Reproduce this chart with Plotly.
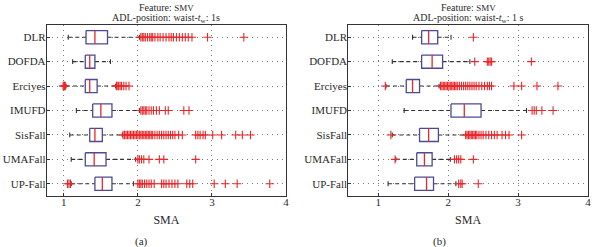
import plotly.graph_objects as go

categories = ["DLR", "DOFDA", "Erciyes", "IMUFD", "SisFall", "UMAFall", "UP-Fall"]

# Panel (a)
a_low = [1.06, 1.12, 1.03, 1.17, 1.08, 1.10, 1.10]
a_q1 = [1.30, 1.29, 1.29, 1.39, 1.35, 1.29, 1.42]
a_med = [1.42, 1.35, 1.35, 1.50, 1.42, 1.41, 1.52]
a_q3 = [1.59, 1.42, 1.45, 1.65, 1.52, 1.57, 1.65]
a_high = [2.02, 1.63, 1.70, 2.02, 1.79, 1.97, 1.94]
a_out = [
    [2.04, 2.06, 2.08, 2.10, 2.13, 2.16, 2.18, 2.20, 2.23, 2.27, 2.30, 2.34, 2.38, 2.42, 2.45, 2.48, 2.52, 2.56, 2.60, 2.64, 2.68, 2.73, 2.94, 3.43],
    [],
    [0.99, 1.00, 1.01, 1.02, 1.71, 1.72, 1.74, 1.76, 1.78, 1.81, 1.84, 1.88],
    [2.04, 2.06, 2.08, 2.10, 2.12, 2.15, 2.18, 2.21, 2.25, 2.29, 2.37, 2.41, 2.62, 2.69],
    [1.80, 1.82, 1.84, 1.86, 1.88, 1.90, 1.92, 1.94, 1.96, 1.98, 2.00, 2.02, 2.04, 2.06, 2.08, 2.10, 2.12, 2.14, 2.16, 2.18, 2.20, 2.23, 2.26, 2.29, 2.32, 2.35, 2.38, 2.41, 2.44, 2.47, 2.50, 2.55, 2.60, 2.78, 2.81, 2.84, 2.88, 2.91, 3.01, 3.13, 3.32, 3.41, 3.52],
    [2.00, 2.02, 2.05, 2.08, 2.15, 2.29, 2.35, 2.78],
    [1.05, 1.07, 1.09, 2.00, 2.02, 2.04, 2.06, 2.09, 2.12, 2.15, 2.18, 2.22, 2.32, 2.35, 2.38, 2.42, 2.46, 2.50, 2.54, 2.66, 2.70, 2.74, 3.03, 3.18, 3.34, 3.78],
]

# Panel (b)
b_low = [1.49, 1.20, 1.11, 1.37, 1.20, 1.25, 1.14]
b_q1 = [1.62, 1.62, 1.40, 2.04, 1.59, 1.55, 1.52]
b_med = [1.72, 1.77, 1.49, 2.23, 1.72, 1.66, 1.69]
b_q3 = [1.85, 1.92, 1.59, 2.47, 1.86, 1.77, 1.79]
b_high = [2.04, 2.31, 1.87, 3.12, 2.25, 2.03, 2.11]
b_out = [
    [2.36],
    [2.38, 2.56, 2.58, 2.60, 2.62, 3.19],
    [1.10, 1.89, 1.91, 1.93, 1.95, 1.97, 1.99, 2.01, 2.03, 2.05, 2.07, 2.09, 2.11, 2.13, 2.16, 2.19, 2.22, 2.25, 2.28, 2.31, 2.34, 2.37, 2.40, 2.44, 2.48, 2.52, 2.56, 2.59, 2.62, 2.94, 3.05, 3.27, 3.57],
    [3.20, 3.23, 3.26, 3.34, 3.50],
    [1.18, 2.25, 2.27, 2.29, 2.31, 2.33, 2.35, 2.37, 2.39, 2.41, 2.44, 2.47, 2.50, 2.54, 2.58, 2.62, 2.66, 2.70, 2.77, 2.82, 2.87, 3.05],
    [1.24, 2.09, 2.12, 2.15, 2.18, 2.36],
    [2.15, 2.18, 2.20, 2.43],
]

x_ticks = [1, 2, 3, 4]

BOX_COLOR = "#4a4a96"
RED = "#e8272a"
FONT = "Liberation Serif"
TXT = "#2a2a2a"
BH = 0.27   # half box height (row units)
CH = 0.10   # half whisker-cap height

fig = go.Figure()


def add_panel(xa, ya, low, q1, med, q3, high, outs):
    for i in range(len(categories)):
        y = i + 1
        for xs in ([low[i], q1[i]], [q3[i], high[i]]):
            fig.add_trace(go.Scatter(x=xs, y=[y, y], mode="lines", xaxis=xa, yaxis=ya,
                                     line=dict(color="#333333", width=1.1, dash="4px,3px"),
                                     hoverinfo="skip", showlegend=False))
        for xv in (low[i], high[i]):
            fig.add_trace(go.Scatter(x=[xv, xv], y=[y - CH, y + CH], mode="lines", xaxis=xa, yaxis=ya,
                                     line=dict(color="#333333", width=1.1),
                                     hoverinfo="skip", showlegend=False))
        fig.add_trace(go.Scatter(x=[q1[i], q3[i], q3[i], q1[i], q1[i]],
                                 y=[y - BH, y - BH, y + BH, y + BH, y - BH],
                                 mode="lines", xaxis=xa, yaxis=ya, fill="toself", fillcolor="white",
                                 line=dict(color=BOX_COLOR, width=1.3),
                                 hoverinfo="skip", showlegend=False))
        fig.add_trace(go.Scatter(x=[med[i], med[i]], y=[y - BH, y + BH], mode="lines",
                                 xaxis=xa, yaxis=ya, line=dict(color=RED, width=1.3),
                                 hoverinfo="skip", showlegend=False))
        if outs[i]:
            fig.add_trace(go.Scatter(x=outs[i], y=[y] * len(outs[i]), mode="markers",
                                     xaxis=xa, yaxis=ya,
                                     marker=dict(symbol="cross-thin-open", size=6, color=RED,
                                                 line=dict(color=RED, width=1.1)),
                                     hoverinfo="skip", showlegend=False))


add_panel("x", "y", a_low, a_q1, a_med, a_q3, a_high, a_out)
add_panel("x2", "y2", b_low, b_q1, b_med, b_q3, b_high, b_out)

W, H = 594, 247
ydom = [(H - 196) / H, (H - 25) / H]
xdom1 = [47 / W, 287.5 / W]
xdom2 = [350 / W, 591 / W]

GRID = dict(showgrid=True, gridcolor="#7a7a7a", griddash="1px,4px", gridwidth=1)
xcommon = dict(tickvals=x_ticks, ticktext=[str(v) for v in x_ticks], zeroline=False,
               showline=True, linecolor="#333333", linewidth=1, mirror=True,
               ticks="inside", ticklen=3, tickcolor="#333333", ticklabelstandoff=-4,
               tickfont=dict(family=FONT, size=11, color=TXT),
               title=dict(text="SMA", font=dict(family=FONT, size=12, color=TXT), standoff=8), **GRID)
ycommon = dict(tickvals=list(range(1, len(categories) + 1)), ticktext=categories,
               range=[7.5, 0.5], zeroline=False, showline=True, linecolor="#333333", linewidth=1,
               mirror=True, ticks="inside", ticklen=3, tickcolor="#333333", ticklabelstandoff=-2,
               tickfont=dict(family=FONT, size=11, color=TXT), domain=ydom, **GRID)

fig.update_layout(
    width=W, height=H, margin=dict(l=0, r=0, t=0, b=0),
    paper_bgcolor="white", plot_bgcolor="white",
    xaxis=dict(domain=xdom1, range=[0.77, 4.0], anchor="y", **xcommon),
    yaxis=dict(anchor="x", **ycommon),
    xaxis2=dict(domain=xdom2, range=[0.57, 4.0], anchor="y2", **xcommon),
    yaxis2=dict(anchor="x2", **ycommon),
)

title1 = "Feature: <span style='font-size:9px'>SMV</span>"
title2 = "ADL-position: waist-<i>t</i><sub>w</sub>: 1s"
title2b = "ADL-position: waist-<i>t</i><sub>w</sub>: 1 s"
for cx, t2 in [((xdom1[0] + xdom1[1]) / 2, title2), ((xdom2[0] + xdom2[1]) / 2, title2b)]:
    fig.add_annotation(x=cx, y=1 - 8 / H, xref="paper", yref="paper", text=title1, showarrow=False,
                       font=dict(family=FONT, size=10, color=TXT), xanchor="center", yanchor="middle")
    fig.add_annotation(x=cx, y=1 - 19 / H, xref="paper", yref="paper", text=t2, showarrow=False,
                       font=dict(family=FONT, size=10, color=TXT), xanchor="center", yanchor="middle")

fig.add_annotation(x=142 / W, y=1 - 241 / H, xref="paper", yref="paper", text="(a)", showarrow=False,
                   font=dict(family=FONT, size=11, color=TXT), xanchor="center", yanchor="middle")
fig.add_annotation(x=442 / W, y=1 - 241 / H, xref="paper", yref="paper", text="(b)", showarrow=False,
                   font=dict(family=FONT, size=11, color=TXT), xanchor="center", yanchor="middle")

fig.write_html("out.html", config={"displayModeBar": False},
               post_script="document.body.style.margin='0';document.body.style.overflow='hidden';")
